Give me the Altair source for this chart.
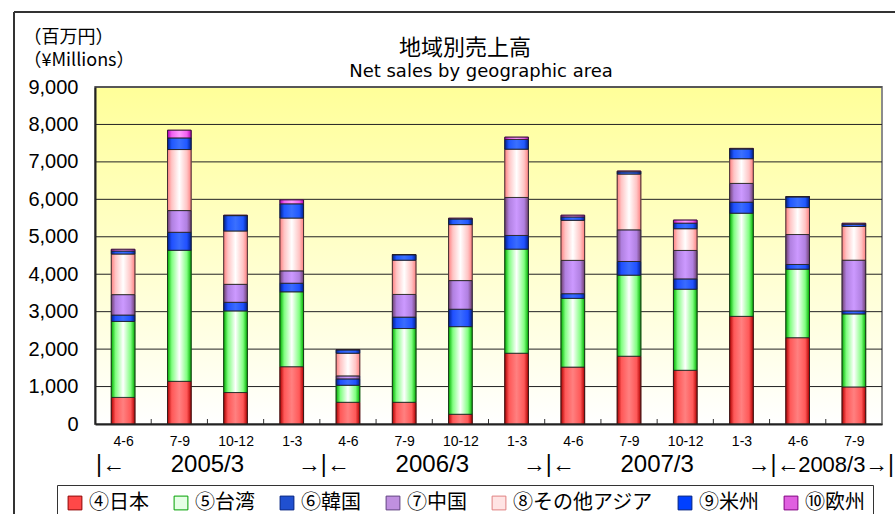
import altair as alt
import pandas as pd

# Quarter labels and the fiscal year each quarter belongs to
quarters = ["4-6", "7-9", "10-12", "1-3", "4-6", "7-9", "10-12", "1-3",
            "4-6", "7-9", "10-12", "1-3", "4-6", "7-9"]
fiscal_years = ["2005/3"] * 4 + ["2006/3"] * 4 + ["2007/3"] * 4 + ["2008/3"] * 2

series_names = ["④日本", "⑤台湾", "⑥韓国", "⑦中国", "⑧その他アジア", "⑨米州", "⑩欧州"]

# Net sales per region (¥ millions)
japan = [710, 1140, 840, 1530, 580, 580, 260, 1890, 1520, 1810, 1435, 2875, 2305, 990]
taiwan = [2030, 3500, 2180, 2000, 455, 1970, 2340, 2780, 1835, 2165, 2165, 2755, 1830, 1950]
korea = [170, 480, 230, 230, 170, 305, 465, 365, 125, 365, 275, 295, 125, 80]
china = [545, 580, 480, 330, 80, 605, 765, 1015, 890, 845, 760, 500, 800, 1355]
other_asia = [1085, 1630, 1425, 1410, 605, 915, 1495, 1290, 1070, 1490, 580, 660, 720, 900]
americas = [80, 310, 410, 380, 90, 145, 150, 260, 90, 60, 150, 260, 285, 60]
europe = [45, 205, 10, 105, 5, 5, 20, 60, 45, 20, 80, 15, 10, 25]
series_values = [japan, taiwan, korea, china, other_asia, americas, europe]

y_ticks = list(range(0, 9001, 1000))

# Styling
W, H = 787, 337
fill_colors = ["#FF4848", "#E6FFE6", "#2050D0", "#C090E0", "#FFE4E4", "#0040FF", "#E060E0"]
stroke_colors = ["#900000", "#00A000", "#002080", "#604080", "#E08080", "#002080", "#800080"]
gradient_stops = [
    ["#B00000", "#FF5858", "#FF8080", "#FF5858", "#B00000"],
    ["#00B000", "#80FF80", "#FFFFFF", "#80FF80", "#00B000"],
    ["#002090", "#2050FF", "#3A6CFF", "#2050FF", "#002090"],
    ["#704070", "#B080E0", "#CC99FF", "#B080E0", "#704070"],
    ["#FF8080", "#FFC4C4", "#FFFFFF", "#FFC4C4", "#FF8080"],
    ["#002090", "#2058FF", "#3A70FF", "#2058FF", "#002090"],
    ["#B000B0", "#F060F0", "#FF99FF", "#F060F0", "#B000B0"],
]
stop_offsets = [0, 0.18, 0.5, 0.82, 1]

rows = []
for s_idx, (name, vals) in enumerate(zip(series_names, series_values)):
    for i, v in enumerate(vals):
        rows.append({"idx": i, "quarter": quarters[i], "series": name,
                     "order": s_idx, "value": v})
df = pd.DataFrame(rows)

n = len(quarters)
x_scale = alt.Scale(domain=[-0.5, n - 0.5], nice=False, zero=False)
y_scale = alt.Scale(domain=[0, 9000], nice=False)
label_expr = "[" + ",".join(f"'{q}'" for q in quarters) + "][datum.value]"

x_axis = alt.Axis(values=list(range(n)), labelExpr=label_expr, labelFont="Liberation Sans",
                  labelFontSize=14, labelColor="black", labelPadding=10, ticks=False,
                  grid=False, domainColor="#222", domainWidth=2, title=None, zindex=1,
                  labelFlush=False, labelOverlap=False)
y_axis = alt.Axis(values=y_ticks, format=",d", labelFont="Liberation Sans", labelFontSize=20,
                  labelColor="black", labelPadding=17, ticks=False, grid=False,
                  domainColor="#222", domainWidth=2, zindex=1,
                  title=["（百万円）", "（¥Millions）"], titleAngle=0, titleAlign="left",
                  titleBaseline="top", titleX=-72, titleY=-59, titleFont="Noto Sans CJK JP",
                  titleFontSize=18, titleFontWeight="normal", titleLineHeight=23,
                  titleColor="black")

X = lambda f: alt.X(f, scale=x_scale, axis=x_axis)
Y = lambda f: alt.Y(f, scale=y_scale, axis=y_axis)

one = pd.DataFrame({"a": [0]})

# Plot background: yellow fading to white, with a grey frame
background = alt.Chart(one).mark_rect(
    fill=alt.Gradient(gradient="linear", x1=0, x2=0, y1=0, y2=1,
                      stops=[alt.GradientStop(color="#FFFF99", offset=0),
                             alt.GradientStop(color="#FFFFFF", offset=1)]),
    stroke="#8C8C8C", strokeWidth=2,
).encode(x=alt.value(0), x2=alt.value(W), y=alt.value(0), y2=alt.value(H))

# Horizontal gridlines
grid = alt.Chart(pd.DataFrame({"v": y_ticks[1:]})).mark_rule(color="#222", strokeWidth=1).encode(
    y=Y("v:Q")
)

# Small ticks between quarters
q_df = pd.DataFrame({"idx": list(range(n))})
sep_ticks = alt.Chart(q_df).transform_filter(f"datum.idx < {n - 1}").transform_calculate(
    b="datum.idx + 0.5"
).mark_rule(color="#333", strokeWidth=1).encode(
    x=X("b:Q"), y=alt.value(H), y2=alt.value(H - 5)
)

stacked = alt.Chart(df).transform_stack(
    stack="value", groupby=["idx"], as_=["v0", "v1"],
    sort=[alt.SortField("order", order="ascending")],
).transform_calculate(xl="datum.idx - 0.21", xr="datum.idx + 0.21")

legend_kw = dict(title=None, orient="none", legendX=-38, legendY=398, direction="horizontal",
                 columns=len(series_names), symbolType="square", symbolSize=190,
                 symbolStrokeWidth=1, labelFont="Noto Sans CJK JP", labelFontSize=20,
                 labelColor="black", labelOffset=4, columnPadding=22, padding=8,
                 strokeColor="#333", fillColor="white", labelLimit=300)

base_bars = stacked.mark_bar(strokeWidth=1).encode(
    x=X("xl:Q"),
    x2="xr:Q",
    y=Y("v0:Q"),
    y2="v1:Q",
    fill=alt.Fill("series:N", scale=alt.Scale(domain=series_names, range=fill_colors),
                  legend=alt.Legend(**legend_kw)),
    stroke=alt.Stroke("series:N", scale=alt.Scale(domain=series_names, range=stroke_colors),
                      legend=alt.Legend(**legend_kw)),
)

# Shaded (cylinder-like) fill drawn over each region's segments
shaded = []
for name, cols in zip(series_names, gradient_stops):
    grad = alt.Gradient(gradient="linear", x1=0, x2=1, y1=0, y2=0,
                        stops=[alt.GradientStop(color=c, offset=o)
                               for c, o in zip(cols, stop_offsets)])
    shaded.append(
        stacked.transform_filter(alt.datum.series == name).mark_bar(
            fill=grad, stroke="#222", strokeWidth=1, strokeOpacity=0.85
        ).encode(x=X("xl:Q"), x2="xr:Q", y=Y("v0:Q"), y2="v1:Q")
    )

# Fiscal-year row under the quarter labels: "|←  2005/3  →|←  2006/3 ..."
groups = []
for i, fy in enumerate(fiscal_years):
    if groups and groups[-1]["fy"] == fy:
        groups[-1]["end"] = i
    else:
        groups.append({"fy": fy, "start": i, "end": i})

last_end = groups[-1]["end"] + 0.5
inner_bars = sorted({g["start"] - 0.5 for g in groups})
bar_df = pd.DataFrame({"pos": inner_bars, "t": ["|"] * len(inner_bars)})
end_bar_df = pd.DataFrame({"pos": [last_end], "t": ["|"]})
left_arrow_df = pd.DataFrame({"pos": [g["start"] - 0.5 for g in groups], "t": ["←"] * len(groups)})
right_arrow_df = pd.DataFrame({"pos": [g["end"] + 0.5 for g in groups[:-1]],
                               "t": ["→"] * (len(groups) - 1)})
end_arrow_df = pd.DataFrame({"pos": [last_end], "t": ["→"]})
full_years = pd.DataFrame([{"pos": (g["start"] + g["end"]) / 2, "t": g["fy"]}
                           for g in groups if g["end"] - g["start"] >= 3])
short_years = pd.DataFrame([{"pos": (g["start"] + g["end"]) / 2, "t": g["fy"]}
                            for g in groups if g["end"] - g["start"] < 3])

row_y = alt.value(H + 41)


def row_text(data, size=23, **kw):
    return alt.Chart(data).mark_text(
        font="Liberation Sans", fontSize=size, color="black", baseline="middle", **kw
    ).encode(x=X("pos:Q"), y=row_y, text="t:N")


year_row = [
    row_text(bar_df, align="center", dx=4),
    row_text(end_bar_df, align="center", dx=9),
    row_text(left_arrow_df, align="left", dx=7),
    row_text(right_arrow_df, align="right", dx=1),
    row_text(end_arrow_df, align="right", dx=6),
    row_text(full_years, size=24, align="center"),
    row_text(short_years, size=22, align="center", dx=6),
]

# Titles
title_jp = alt.Chart(pd.DataFrame({"t": ["地域別売上高"]})).mark_text(
    font="Noto Sans CJK JP", fontSize=22, color="black", baseline="middle", align="center"
).encode(text="t:N", x=alt.value(370), y=alt.value(-39))
title_en = alt.Chart(pd.DataFrame({"t": ["Net sales by geographic area"]})).mark_text(
    font="DejaVu Sans", fontSize=18, color="black", baseline="middle", align="center"
).encode(text="t:N", x=alt.value(386), y=alt.value(-15))

# Outer frame of the figure (top and left edges)
frame_top = alt.Chart(one).mark_rule(color="#333", strokeWidth=2).encode(
    x=alt.value(-81), x2=alt.value(W + 20), y=alt.value(-75)
)
frame_left = alt.Chart(one).mark_rule(color="#333", strokeWidth=2).encode(
    x=alt.value(-81), y=alt.value(-75), y2=alt.value(H + 100)
)

chart = alt.layer(
    background, grid, sep_ticks, base_bars, *shaded, *year_row,
    title_jp, title_en, frame_top, frame_left,
).properties(
    width=W, height=H,
    autosize=alt.AutoSizeParams(type="none"),
    padding={"left": 95, "top": 87, "right": 13, "bottom": 90},
).configure_view(stroke=None).configure(background="white")

chart.save("out.html", embed_options={"renderer": "svg", "actions": False})
